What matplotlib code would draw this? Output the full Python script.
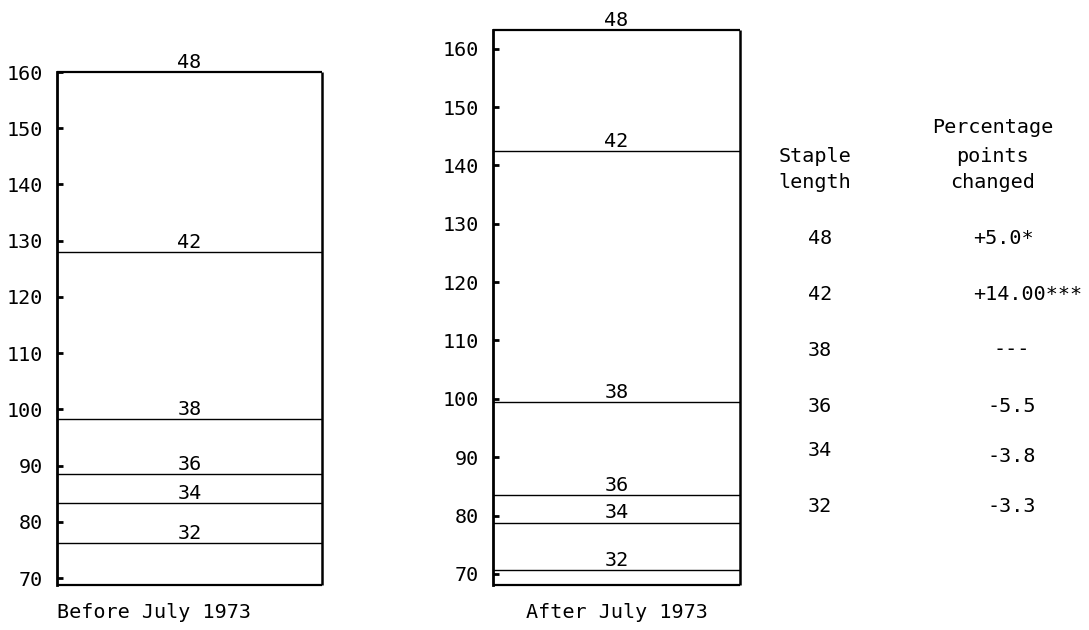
import matplotlib
matplotlib.use("Agg")
import matplotlib.pyplot as plt

plt.rcParams['font.family'] = ['DejaVu Sans Mono', 'Liberation Mono']
plt.rcParams['font.size'] = 14.5

# staple lengths and their levels on each scale
staples = ['48', '42', '38', '36', '34', '32']
before_levels = [160.0, 128.0, 98.3, 88.5, 83.3, 76.2]
after_levels = [163.2, 142.5, 99.5, 83.5, 78.8, 70.6]
before_base = 68.8
after_base = 68.1
ticks = list(range(70, 161, 10))

changes = ['+5.0*', '+14.00***', '---', '-5.5', '-3.8', '-3.3']

W, H = 1089, 630
fig = plt.figure(figsize=(W / 100, H / 100), dpi=100)


def px_axes(x0, x1, y_top, y_bot):
    return fig.add_axes([x0 / W, 1 - y_bot / H, (x1 - x0) / W, (y_bot - y_top) / H])


def draw_panel(ax, levels, base, ylim, title, loc):
    ax.set_xlim(0, 1)
    ax.set_ylim(*ylim)
    top = levels[0]
    for s in ['top', 'right', 'bottom']:
        ax.spines[s].set_visible(False)
    ax.spines['left'].set_bounds(base, top)
    ax.spines['left'].set_linewidth(2)
    ax.vlines(1, base, top, color='black', lw=1.8, clip_on=False)
    ax.hlines(base, 0, 1, color='black', lw=1.6, clip_on=False)
    for i, (lab, lv) in enumerate(zip(staples, levels)):
        ax.hlines(lv, 0, 1, color='black', lw=1.6 if i == 0 else 1.0, clip_on=False)
        ax.annotate(lab, (0.5, lv), xytext=(0, 3), textcoords='offset points',
                    ha='center', va='baseline')
    ax.set_yticks(ticks)
    ax.set_yticklabels([str(t) for t in ticks])
    ax.tick_params(axis='y', direction='in', length=4, width=2, pad=10)
    ax.set_xticks([])
    ax.set_xlabel(title, labelpad=2, loc=loc)


ax1 = px_axes(57, 322, 20, 600)
draw_panel(ax1, before_levels, before_base, (66.09, 169.25), 'Before July 1973', 'left')

ax2 = px_axes(493, 740, 10, 600)
draw_panel(ax2, after_levels, after_base, (65.54, 166.62), 'After July 1973', 'center')


# table on the right
def ftext(x, y, s, **kw):
    fig.text(x / W, 1 - y / H, s, va='center', **kw)


ftext(815, 157, 'Staple', ha='center')
ftext(815, 182, 'length', ha='center')
ftext(993, 128, 'Percentage', ha='center')
ftext(993, 157, 'points', ha='center')
ftext(993, 182, 'changed', ha='center')

row_y = [238, 295, 350, 407, 450, 507]
chg_y = [238, 295, 350, 407, 457, 507]
for s, c, y1, y2 in zip(staples, changes, row_y, chg_y):
    ftext(820, y1, s, ha='center')
    if c.startswith('+'):
        ftext(973, y2, c, ha='left')
    else:
        ftext(1012, y2, c, ha='center')

fig.savefig('out.png', dpi=100)
